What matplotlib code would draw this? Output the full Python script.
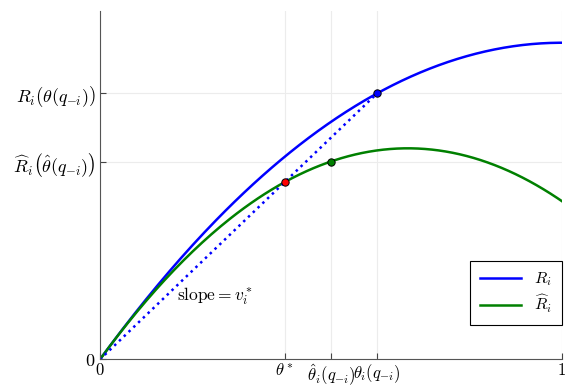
import numpy as np
import matplotlib
matplotlib.use("Agg")
from matplotlib import pyplot as plt

plt.rcParams["mathtext.fontset"] = "cm"
plt.rcParams["font.family"] = "serif"
plt.rcParams["font.serif"] = ["DejaVu Serif"]

# curves: R(x) = 2x - x^2, Rhat(x) = 2x - 1.5x^2
r_coef = [2.0, -1.0]
rhat_coef = [2.0, -1.5]

theta_star = 0.4
theta_hat = 0.5
theta = 0.6

xtick_pos = [0.0, theta_star, theta_hat, theta, 1.0]
xtick_labels = ["$0$", r"$\theta^*$", r"$\hat{\theta}_i(q_{-i})$", r"$\theta_i(q_{-i})$", "$1$"]


def R(x):
    return r_coef[0] * x + r_coef[1] * x ** 2


def Rhat(x):
    return rhat_coef[0] * x + rhat_coef[1] * x ** 2


def main():
    fig = plt.figure(figsize=(5.81, 3.88), dpi=100)
    ax = fig.add_axes([0.172, 0.0735, 0.795, 0.898])

    x = np.linspace(0, 1, 200)
    ax.plot(x, R(x), color="blue", lw=1.8, label="$R_i$")
    ax.plot(x, Rhat(x), color="green", lw=1.8, label=r"$\widehat{R}_i$")

    # ray from origin through the optimum
    xs = np.linspace(0, theta, 30)
    slope = R(theta) / theta
    ax.plot(xs, slope * xs, ":", color="blue", lw=1.8)

    ax.scatter([theta], [R(theta)], s=28, color="blue", edgecolor="black", lw=0.7, zorder=5)
    ax.scatter([theta_hat], [Rhat(theta_hat)], s=28, color="green", edgecolor="black", lw=0.7, zorder=5)
    ax.scatter([theta_star], [Rhat(theta_star)], s=28, color="red", edgecolor="black", lw=0.7, zorder=5)

    ax.text(0.25, 0.2, r"$\mathrm{slope} = v_i^*$", fontsize=12.5, ha="center", va="center")

    ax.set_xlim(0, 1)
    ax.set_ylim(0, 1.1)
    ax.set_xticks(xtick_pos)
    ax.set_xticklabels(xtick_labels)
    ax.set_yticks([0, Rhat(theta_hat), R(theta)])
    ax.set_yticklabels(["$0$", r"$\widehat{R}_i\left(\hat{\theta}(q_{-i})\right)$",
                        r"$R_i\left(\theta(q_{-i})\right)$"])
    ax.tick_params(direction="in", length=4, color="#444444")
    ax.tick_params(axis="x", pad=2, labelsize=12)
    ax.tick_params(axis="y", pad=3, labelsize=13)
    ax.grid(True, color="#ececec", lw=0.8)
    ax.set_axisbelow(True)
    for side in ("top", "right"):
        ax.spines[side].set_visible(False)
    for side in ("left", "bottom"):
        ax.spines[side].set_color("#555555")

    leg = ax.legend(loc="lower right", bbox_to_anchor=(1.0, 0.1), fontsize=11.5,
                    fancybox=False, framealpha=1, edgecolor="black", handlelength=2.6,
                    borderaxespad=0, labelspacing=0.3, borderpad=0.6)
    leg.get_frame().set_linewidth(0.8)

    fig.savefig("out.png", dpi=100)


if __name__ == "__main__":
    main()
